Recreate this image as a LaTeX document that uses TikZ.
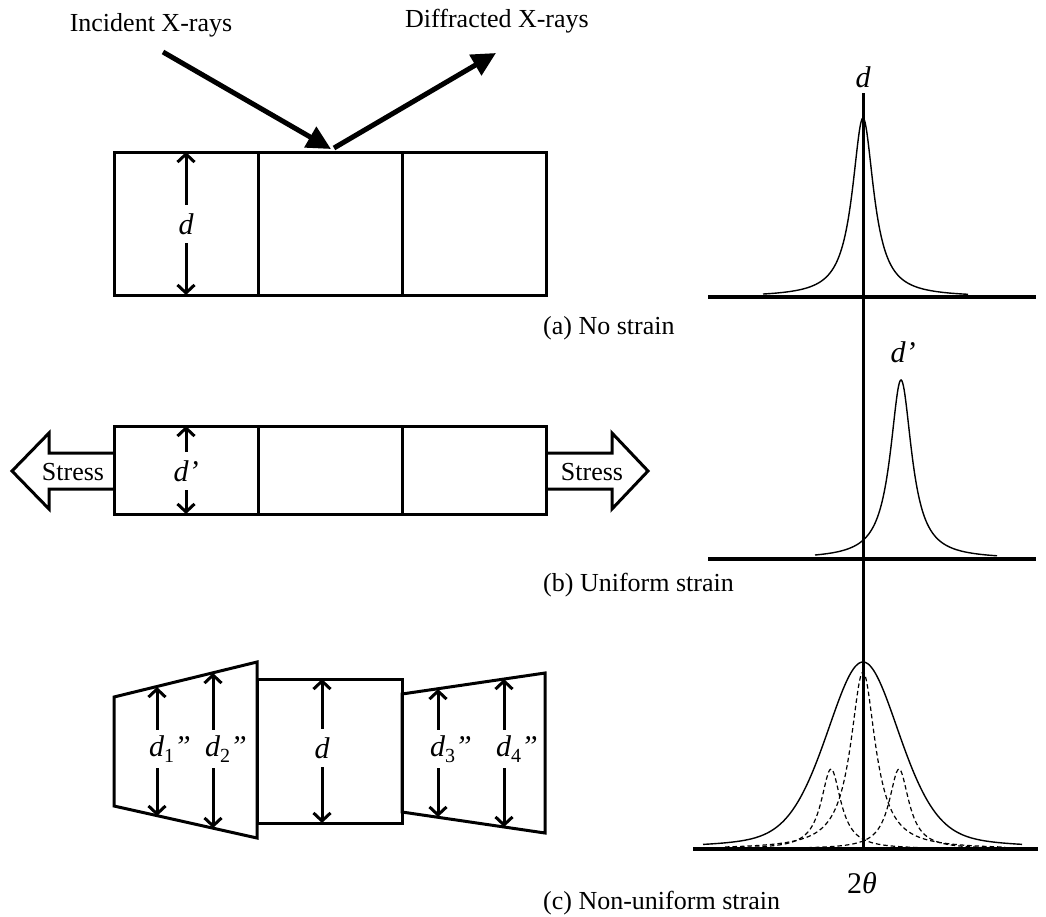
\documentclass[tikz,border=0pt]{standalone}
\usepackage{fontspec}
\setmainfont{Liberation Serif}
\usetikzlibrary{arrows.meta}
\newcommand\dsubq[1]{d\raisebox{-0.4ex}{\upshape\fontsize{20}{20}\selectfont #1}”}
\tikzset{
  boxline/.style={line width=3pt, line join=miter},
  ray/.style={line width=5pt, -{Triangle[length=24pt,width=23pt]}},
  dimarr/.style={line width=3pt, -{Straight Barb[length=8pt,width=17pt]}},
  axisline/.style={line width=3.5pt},
  vaxis/.style={line width=3pt},
  curve/.style={line width=1.4pt},
  dcurve/.style={line width=1.2pt, dash pattern=on 4.5pt off 3pt},
  txt/.style={font=\fontsize{26}{30}\selectfont, inner sep=0pt},
  lab/.style={font=\fontsize{30}{34}\selectfont\itshape, inner sep=0pt, minimum height=38pt},
}
\begin{document}
\begin{tikzpicture}[x=1pt,y=-1pt]
\useasboundingbox (0,0) rectangle (1046,916);

% ---------- top row: no strain ----------
\node[txt] (inc) at (151,25) {Incident X-rays};
\node[txt] (dif) at (497,21) {Diffracted X-rays};
\coordinate (incS) at (163,52);
\coordinate (hit) at (331,149);
\coordinate (difS) at (334,148);
\coordinate (difE) at (496,53);
\draw[ray] (incS) -- (hit);
\draw[ray] (difS) -- (difE);

\draw[boxline] (114,152) rectangle (546,295);
\draw[boxline] (258,152) -- (258,295);
\draw[boxline] (402,152) -- (402,295);
\node[lab] (la) at (186,224) {d};
\coordinate (laT) at (186,152);
\coordinate (laB) at (186,295);
\draw[dimarr] (la.north) -- (laT);
\draw[dimarr] (la.south) -- (laB);

\node[txt, anchor=west] (capa) at (543,328) {(a) No strain};

% ---------- middle row: uniform strain ----------
\draw[boxline] (114,426) rectangle (546,514);
\draw[boxline] (258,426) -- (258,514);
\draw[boxline] (402,426) -- (402,514);
\node[lab] (lb) at (186,471) {d’};
\coordinate (lbT) at (186,426);
\coordinate (lbB) at (186,514);
\draw[dimarr] (la.north |- lb.north) -- (lbT);
\draw[dimarr] (la.south |- lb.south) -- (lbB);

\draw[boxline] (114,453) -- (49,453) -- (49,433) -- (12,471) -- (49,509) -- (49,489) -- (114,489);
\draw[boxline] (546,453) -- (612,453) -- (612,433) -- (648,471) -- (612,509) -- (612,489) -- (546,489);
\node[txt] (sl) at (73,472) {Stress};
\node[txt] (sr) at (592,472) {Stress};

\node[txt, anchor=west] (capb) at (543,585) {(b) Uniform strain};

% ---------- bottom row: non-uniform strain ----------
\draw[boxline] (114,697) -- (257,662) -- (257,838) -- (114,806) -- cycle;
\draw[boxline] (257,679) rectangle (402,823);
\draw[boxline] (402,694) -- (545,673) -- (545,833) -- (402,812) -- cycle;

\node[lab, anchor=west] (l1) at (149,749) {\dsubq{1}};
\node[lab, anchor=west] (l2) at (205,749) {\dsubq{2}};
\node[lab] (l0) at (322,748) {d};
\node[lab, anchor=west] (l3) at (430,749) {\dsubq{3}};
\node[lab, anchor=west] (l4) at (496,749) {\dsubq{4}};

\coordinate (a1) at (157,749); \coordinate (t1) at (157,687); \coordinate (b1) at (157,816);
\coordinate (a2) at (213,749); \coordinate (t2) at (213,673); \coordinate (b2) at (213,828);
\coordinate (a0) at (322,748); \coordinate (t0) at (322,679); \coordinate (b0) at (322,823);
\coordinate (a3) at (438,749); \coordinate (t3) at (438,689); \coordinate (b3) at (438,817);
\coordinate (a4) at (504,749); \coordinate (t4) at (504,679); \coordinate (b4) at (504,827);

\draw[dimarr] (a1 |- l1.north) -- (t1);  \draw[dimarr] (a1 |- l1.south) -- (b1);
\draw[dimarr] (a2 |- l2.north) -- (t2);  \draw[dimarr] (a2 |- l2.south) -- (b2);
\draw[dimarr] (l0.north) -- (t0);        \draw[dimarr] (l0.south) -- (b0);
\draw[dimarr] (a3 |- l3.north) -- (t3);  \draw[dimarr] (a3 |- l3.south) -- (b3);
\draw[dimarr] (a4 |- l4.north) -- (t4);  \draw[dimarr] (a4 |- l4.south) -- (b4);

\node[txt, anchor=west] (capc) at (543,903) {(c) Non-uniform strain};

% ---------- right: diffraction peaks ----------
\coordinate (vT) at (863,93);
\coordinate (vB) at (863,849);
\draw[vaxis] (vT) -- (vB);
\coordinate (h1L) at (708,297); \coordinate (h1R) at (1036,297);
\coordinate (h2L) at (708,559); \coordinate (h2R) at (1036,559);
\coordinate (h3L) at (693,849); \coordinate (h3R) at (1038,849);
\draw[axisline] (h1L) -- (h1R);
\draw[axisline] (h2L) -- (h2R);
\draw[axisline] (h3L) -- (h3R);

\draw[curve] plot[domain=-100:105, samples=241, smooth] ({863+\x},{297-179/(1+(\x/13)^2)});
\node[lab] (pd) at (863,77) {d};

\draw[curve] plot[domain=-86:96, samples=221, smooth] ({901+\x},{559-179/(1+(\x/13)^2)});
\node[lab] (pdp) at (903,352) {d’};

\draw[curve] plot[domain=-160:159, samples=241, smooth]
  ({863+\x},{849-187*(0.65*exp(-0.693*(\x/44)^2)+0.35/(1+(\x/44)^2))});
\draw[dcurve] plot[domain=-138:142, samples=241, smooth] ({863+\x},{849-177/(1+(\x/15)^2)});
\draw[dcurve] plot[domain=-106:174, samples=241, smooth] ({831+\x},{849-80/(1+(\x/12)^2)});
\draw[dcurve] plot[domain=-174:106, samples=241, smooth] ({899+\x},{849-80/(1+(\x/12)^2)});
\node[font=\fontsize{30}{34}\selectfont, inner sep=0pt] (tth) at (862,883) {2\textit{θ}};
\end{tikzpicture}
\end{document}
